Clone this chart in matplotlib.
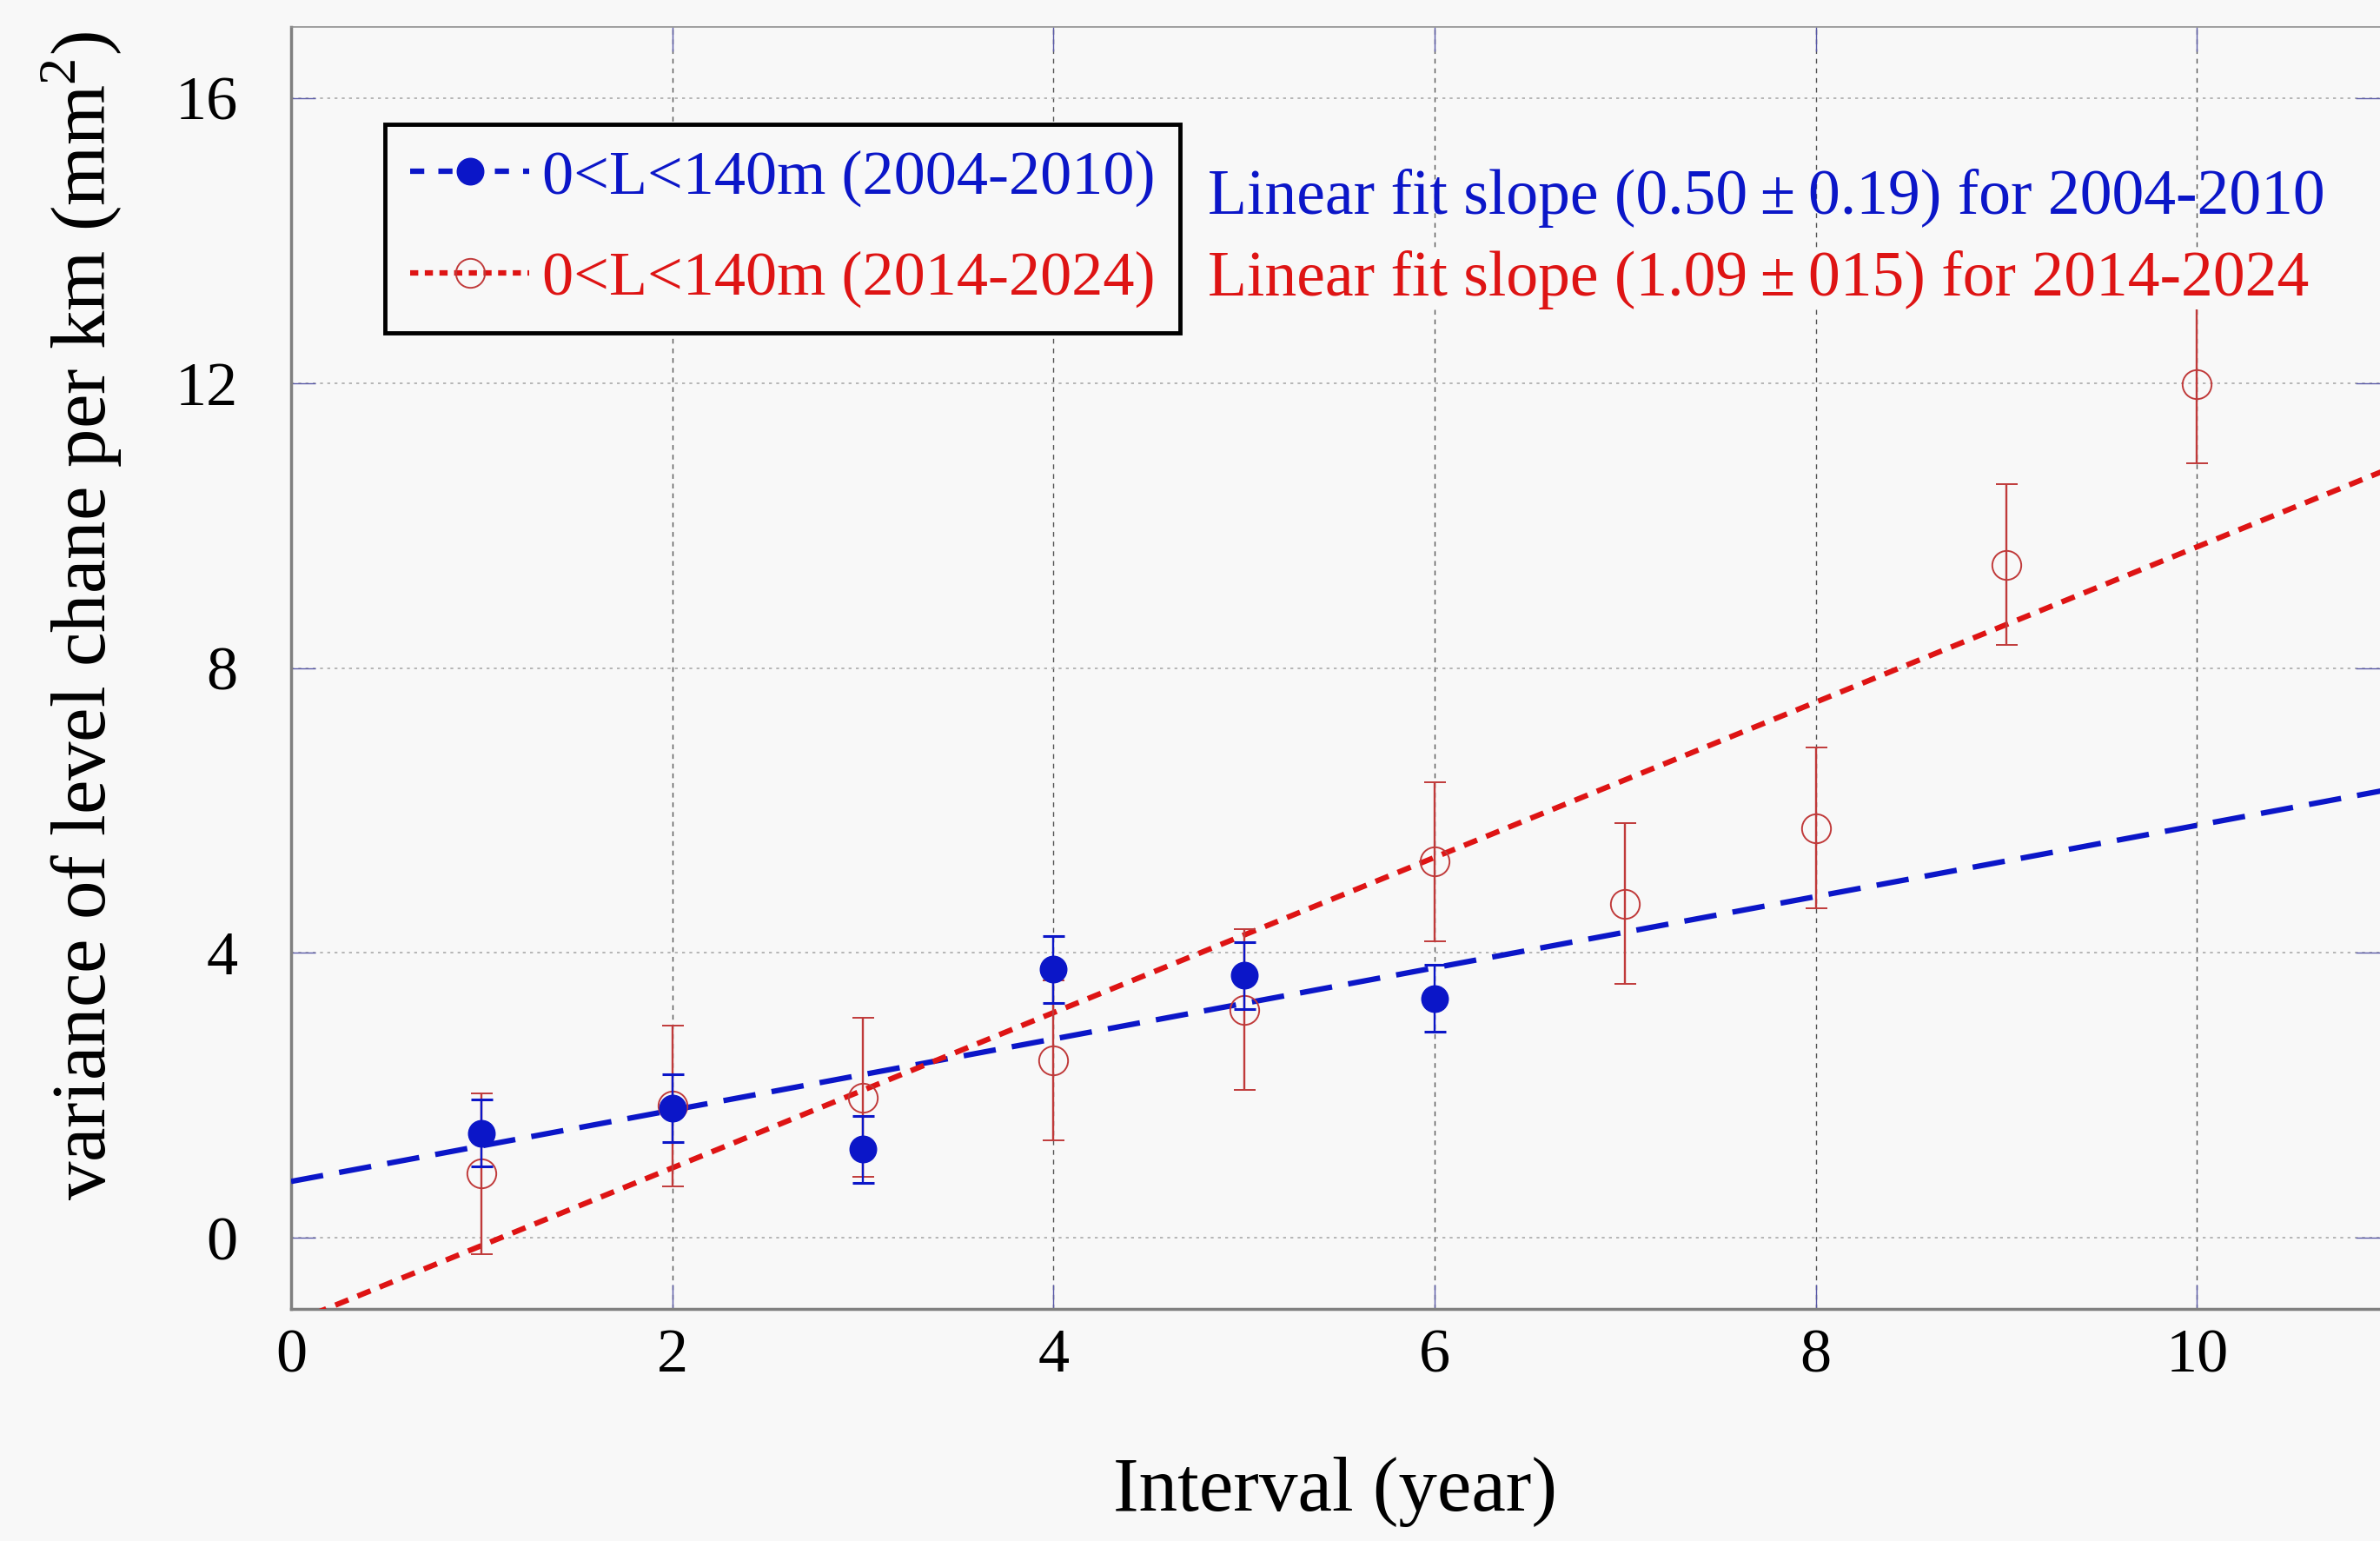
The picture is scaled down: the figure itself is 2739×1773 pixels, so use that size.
import numpy as np
import matplotlib
matplotlib.use('Agg')
import matplotlib.pyplot as plt
from matplotlib.lines import Line2D

# data
x_old = [1, 2, 3, 4, 5, 6]
y_old = [1.47, 1.82, 1.24, 3.77, 3.68, 3.36]
err_old = [0.47, 0.48, 0.47, 0.47, 0.47, 0.47]

x_new = [1, 2, 3, 4, 5, 6, 7, 8, 9, 10]
y_new = [0.90, 1.85, 1.97, 2.49, 3.20, 5.28, 4.69, 5.75, 9.45, 11.99]
err_new = [1.13, 1.13, 1.12, 1.12, 1.13, 1.12, 1.13, 1.13, 1.13, 1.12]

fit_old = [0.50, 0.79]   # slope, intercept
fit_new = [1.09, -1.20]

label_old = '0<L<140m (2004-2010)'
label_new = '0<L<140m (2014-2024)'
note_old = 'Linear fit slope (0.50\u2009±\u20090.19) for 2004-2010'
note_new = 'Linear fit slope (1.09\u2009±\u2009015) for 2014-2024'

x_ticks = [0, 2, 4, 6, 8, 10]
y_ticks = [0, 4, 8, 12, 16]

BLUE = '#0b16c8'
RED = '#de1414'
RED_PT = '#c03a3a'
BG = '#f8f8f8'


def main():
	plt.rcParams['font.family'] = ['Liberation Serif', 'DejaVu Serif']
	plt.rcParams['mathtext.fontset'] = 'custom'
	plt.rcParams['mathtext.rm'] = 'Liberation Serif'

	fig = plt.figure(figsize=(27.39, 17.73), dpi=100, facecolor=BG)
	ax = fig.add_axes([0.1223, 0.1506, 0.8777, 0.8319])
	ax.set_facecolor(BG)

	xx = np.array([0, 11.0])
	ax.plot(xx, np.polyval(fit_old, xx), color=BLUE, lw=4.5, dashes=(6, 3), zorder=3)
	ax.plot(xx, np.polyval(fit_new, xx), color=RED, lw=4.5, dashes=(2.6, 1.8), zorder=4)

	ax.errorbar(x_new, y_new, yerr=err_new, fmt='o', ms=24, mfc='none', mec=RED_PT,
				mew=1.4, ecolor=RED_PT, elinewidth=1.7, capsize=9, capthick=1.7, zorder=5)
	ax.errorbar(x_old, y_old, yerr=err_old, fmt='o', ms=22, color=BLUE, ecolor=BLUE,
				elinewidth=1.7, capsize=9, capthick=2.2, zorder=6)

	ax.set_xlim(0, 10.96)
	ax.set_ylim(-1, 17)
	ax.set_xticks(x_ticks)
	ax.set_yticks(y_ticks)
	ax.tick_params(axis='both', direction='in', length=20, width=1, color='#5a5aa8',
				   labelsize=52, top=True, right=True)
	ax.tick_params(axis='y', pad=44)
	ax.tick_params(axis='x', pad=16)

	ax.grid(axis='x', color='#555555', ls=(0, (4, 4)), lw=1)
	ax.grid(axis='y', color='#aaaaaa', ls=(0, (2, 3)), lw=1.2)
	ax.set_axisbelow(True)

	for s in ['left', 'bottom']:
		ax.spines[s].set_color('#808080')
		ax.spines[s].set_linewidth(2.5)
	ax.spines['top'].set_color('#909090')
	ax.spines['top'].set_linewidth(1.2)
	ax.spines['right'].set_visible(False)

	ax.set_xlabel('Interval (year)', fontsize=64)
	ax.xaxis.set_label_coords(0.5, -0.115)
	ax.set_ylabel('variance of level chane per km (mm$^2$)', fontsize=64)
	ax.yaxis.set_label_coords(-0.08, 0.541)

	# legend with proxy handles (line + marker)
	h_old = Line2D([], [], color=BLUE, lw=4.5, dashes=(2.6, 2.6), marker='o', ms=22)
	h_new = Line2D([], [], color=RED, lw=4.5, dashes=(1.5, 1.2), marker='o', ms=24,
				   mfc='none', mec=RED_PT, mew=1.4)
	leg = ax.legend([h_old, h_new], [label_old, label_new], loc='upper left',
					bbox_to_anchor=(0.045, 0.924), borderaxespad=0, fontsize=52,
					handlelength=1.9, handletextpad=0.2, labelspacing=0.7,
					borderpad=0.4, fancybox=False, framealpha=1, facecolor=BG,
					edgecolor='black', labelcolor=[BLUE, RED])
	leg.get_frame().set_linewidth(3.5)

	ax.text(4.81, 14.6, note_old, color=BLUE, fontsize=53, va='center', ha='left', zorder=7)
	ax.text(4.81, 13.45, note_new, color=RED, fontsize=53, va='center', ha='left', zorder=7,
			bbox=dict(facecolor=BG, edgecolor='none', pad=0))

	plt.savefig('out.png', dpi=100, facecolor=BG)


if __name__ == '__main__':
	main()
